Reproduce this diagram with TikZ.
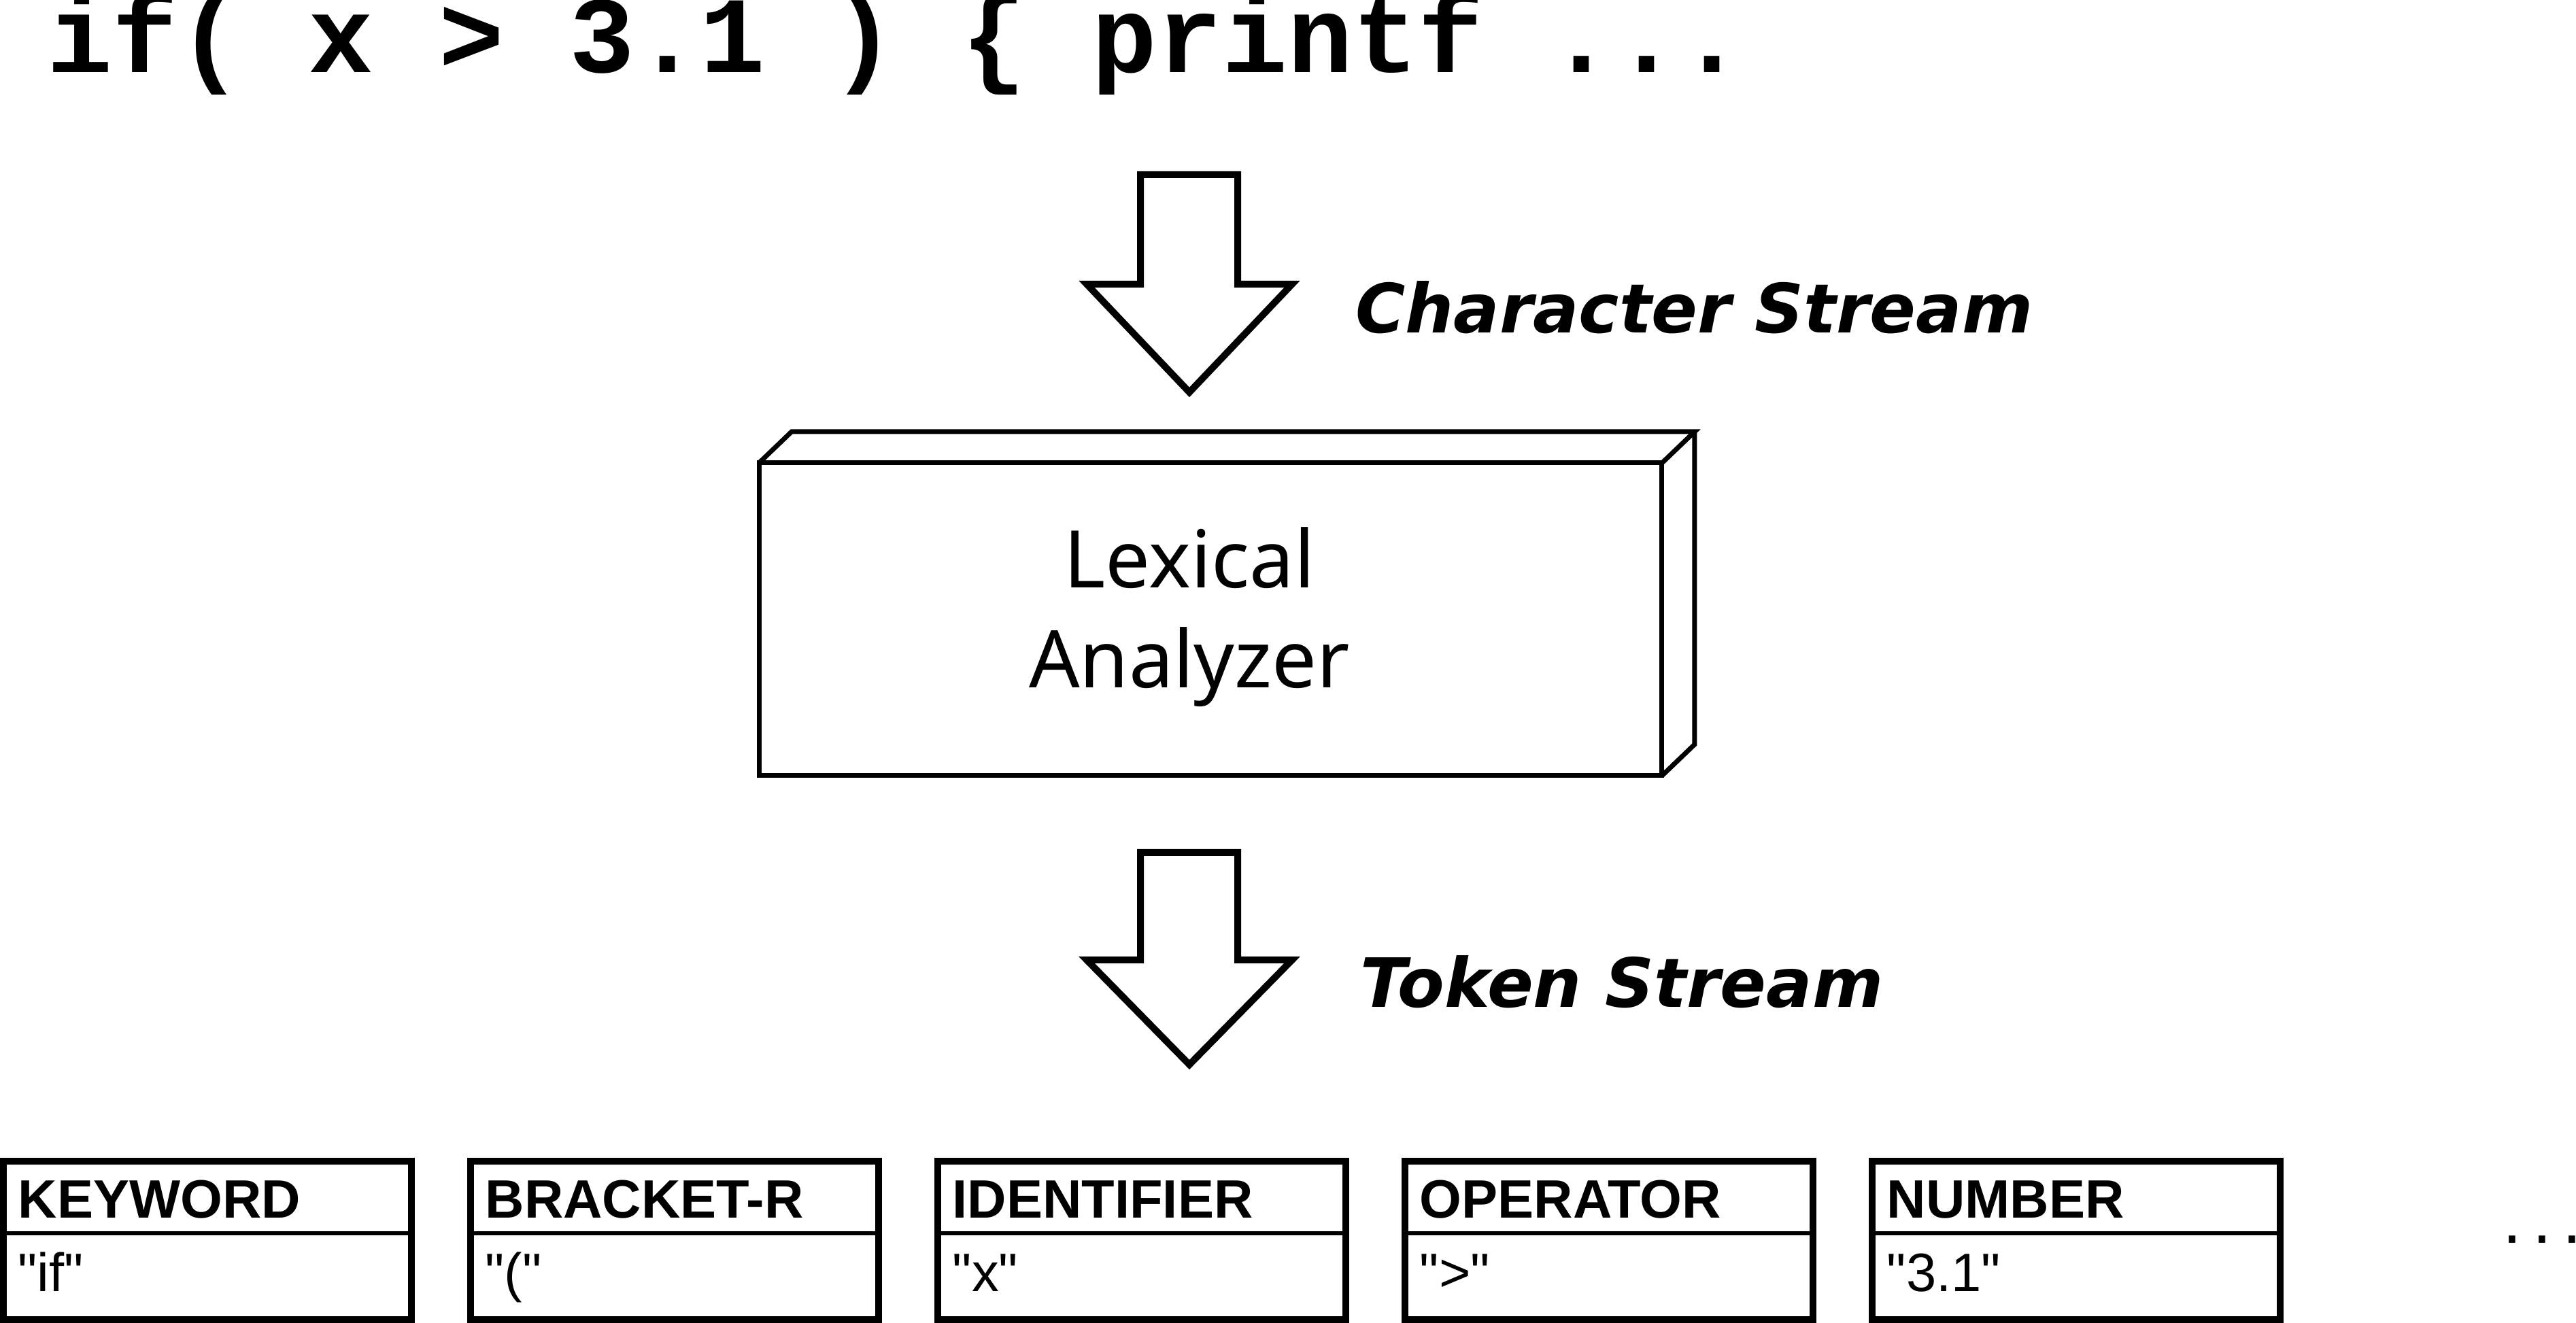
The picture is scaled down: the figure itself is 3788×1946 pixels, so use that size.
\documentclass[tikz,border=0pt]{standalone}
\usepackage{fontspec}
\usetikzlibrary{calc}
\newfontfamily\codefont{Liberation Mono}
\newfontfamily\labfont{DejaVu Sans}
\newfontfamily\lexfont{Noto Sans}
\newfontfamily\tokfont{Liberation Sans}
\tikzset{
  txt/.style={inner sep=0pt, outer sep=0pt, anchor=base west},
  codetext/.style={txt, font=\codefont\bfseries\fontsize{16}{19}\selectfont},
  streamlabel/.style={txt, font=\labfont\bfseries\itshape\fontsize{10}{12}\selectfont},
  blockarrow/.style={draw, line width=1pt, fill=white, line join=miter},
  lexbox/.style={draw, line width=0.7pt, minimum width=132.8pt, minimum height=46pt, inner sep=0pt, outer sep=0pt},
  lexface/.style={draw, line width=0.7pt, line join=miter},
  lexlabel/.style={align=center, font=\lexfont\fontsize{11.7}{14.7}\selectfont, inner sep=0pt},
  tokbox/.style={draw, line width=1pt, minimum width=60pt, minimum height=23.3pt, inner sep=0pt, outer sep=0pt},
  tokdiv/.style={line width=0.65pt},
  tokhead/.style={txt, font=\tokfont\bfseries\fontsize{7.95}{9}\selectfont},
  tokval/.style={txt, font=\tokfont\fontsize{7.95}{9}\selectfont},
  moretext/.style={txt, font=\tokfont\fontsize{10}{12}\selectfont},
}
\begin{document}
\begin{tikzpicture}[x=0.1pt, y=-0.1pt]
\useasboundingbox (0,0) rectangle (3788,1946);

% source code line
\node[codetext] (code) at (70,107) {if( x > 3.1 ) \{ printf ...};

% character stream arrow
\draw[blockarrow] (1677,257) -- (1820,257) -- (1820,418) -- (1900,418) -- (1749,577)
  -- (1598,418) -- (1677,418) -- cycle;
\node[streamlabel] (cs) at (1993,490) {Character Stream};

% lexical analyzer box
\node[lexbox] (lex) at (1780,911) {};
\draw[lexface] (lex.north west) -- ++(48,-46) -- ($(lex.north east)+(48,-46)$) -- (lex.north east);
\draw[lexface] ($(lex.north east)+(48,-46)$) -- ($(lex.south east)+(48,-46)$) -- (lex.south east);
\node[lexlabel] (lextxt) at (1749,908) {Lexical\\Analyzer};

% token stream arrow
\draw[blockarrow] (1677,1254) -- (1820,1254) -- (1820,1412) -- (1900,1412) -- (1749,1566)
  -- (1598,1412) -- (1677,1412) -- cycle;
\node[streamlabel] (ts) at (2000,1482) {Token Stream};

% token boxes
\node[tokbox] (kw) at (304.75,1824.5) {};
\node[tokbox] (br) at (991.75,1824.5) {};
\node[tokbox] (id) at (1678.75,1824.5) {};
\node[tokbox] (op) at (2365.75,1824.5) {};
\node[tokbox] (nu) at (3052.75,1824.5) {};

\foreach \b in {kw,br,id,op,nu}{
  \draw[tokdiv] ($(\b.north west)+(0,106)$) -- ($(\b.north east)+(0,106)$);
}

\node[tokhead] (kwh) at ($(kw.north west)+(22,84)$) {KEYWORD};
\node[tokval]  (kwv) at ($(kw.north west)+(22,192)$) {"if"};
\node[tokhead] (brh) at ($(br.north west)+(22,84)$) {BRACKET-R};
\node[tokval]  (brv) at ($(br.north west)+(22,192)$) {"("};
\node[tokhead] (idh) at ($(id.north west)+(22,84)$) {IDENTIFIER};
\node[tokval]  (idv) at ($(id.north west)+(22,192)$) {"x"};
\node[tokhead] (oph) at ($(op.north west)+(22,84)$) {OPERATOR};
\node[tokval]  (opv) at ($(op.north west)+(22,192)$) {">"};
\node[tokhead] (nuh) at ($(nu.north west)+(22,84)$) {NUMBER};
\node[tokval]  (nuv) at ($(nu.north west)+(22,192)$) {"3.1"};

\node[moretext] (more) at (3680,1829) {.\hspace{1.66pt}.\hspace{1.66pt}.};
\end{tikzpicture}
\end{document}
